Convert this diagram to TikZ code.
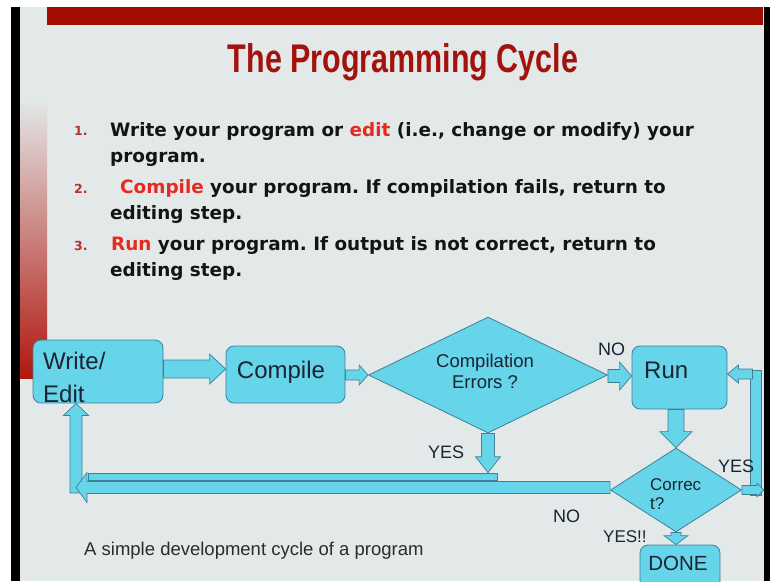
\documentclass[tikz,border=0pt]{standalone}
\usepackage{fontspec}
\setmainfont{Liberation Sans}
\newfontfamily\listfont{DejaVu Sans}
\usetikzlibrary{calc,shapes.geometric}

\definecolor{slidebg}{HTML}{E3E8E8}
\definecolor{barred}{HTML}{A20D02}
\definecolor{sidered}{HTML}{B0170F}
\definecolor{titlered}{HTML}{A3120C}
\definecolor{wordred}{HTML}{E62A21}
\definecolor{numred}{HTML}{B8302E}
\definecolor{flowcyan}{HTML}{66D4E9}
\definecolor{edgeblue}{HTML}{3E8098}
\definecolor{labelink}{HTML}{1C2433}
\definecolor{bodyink}{HTML}{141414}

\newcommand\fsz[1]{\fontsize{#1}{#1}\selectfont}
\newcommand\hl[1]{\textcolor{wordred}{#1}}

% block arrow: from, to, shaft half width, head half width, head length
\newcommand\blockarrow[5]{%
  \draw[flowarrow]
    ($(#1)!#3!90:(#2)$) --
    ($(#2)!#5!(#1)!#3!90:(#2)$) --
    ($(#2)!#5!(#1)!#4!90:(#2)$) --
    (#2) --
    ($(#2)!#5!(#1)!#4!-90:(#2)$) --
    ($(#2)!#5!(#1)!#3!-90:(#2)$) --
    ($(#1)!#3!-90:(#2)$) -- cycle;}

\tikzset{
  flowbox/.style={draw=edgeblue, fill=flowcyan, rounded corners=8pt,
    inner sep=0pt, line width=0.8pt},
  decision/.style={diamond, draw=edgeblue, fill=flowcyan, inner sep=0pt,
    line width=0.8pt},
  barpart/.style={draw=edgeblue, fill=flowcyan, inner sep=0pt,
    line width=0.7pt},
  flowarrow/.style={draw=edgeblue, fill=flowcyan, line width=0.7pt,
    line join=miter},
  lbl/.style={inner sep=0pt, anchor=base west, text=labelink},
  listline/.style={inner sep=0pt, anchor=base west, text=bodyink,
    font=\listfont\bfseries\fsz{18.4}\frenchspacing},
  listnum/.style={inner sep=0pt, anchor=base west, text=numred,
    font=\listfont\bfseries\fsz{12.5}},
}

\begin{document}
\frenchspacing
\begin{tikzpicture}[x=1pt,y=-1pt]
\useasboundingbox (0,0) rectangle (770,581);

% slide frame
\fill[white] (0,0) rectangle (770,581);
\fill[slidebg] (20,7) rectangle (764,581);
\fill[black] (11,7) rectangle (20,581);
\fill[black] (764,7) rectangle (770,581);
\fill[barred] (47,7) rectangle (763,25);
\shade[top color=slidebg, middle color=sidered!45!slidebg, bottom color=sidered]
  (20,100) rectangle (47,378);

% title
\node[anchor=base, inner sep=0pt, text=titlered] (title) at (403,72)
  {\resizebox{350pt}{29pt}{\bfseries The Programming Cycle}};

% numbered steps
\node[listnum] (n1) at (74,135) {1.};
\node[listline] (l1) at (110,136)
  {Write your program or \hl{edit} (i.e., change or modify) your};
\node[listline] (l2) at (110,162) {program.};
\node[listnum] (n2) at (74,193) {2.};
\node[listline] (l3) at (120,193)
  {\hl{Compile} your program. If compilation fails, return to};
\node[listline] (l4) at (110,219) {editing step.};
\node[listnum] (n3) at (74,250) {3.};
\node[listline] (l5) at (111,250)
  {\hl{Run} your program. If output is not correct, return to};
\node[listline] (l6) at (110,276) {editing step.};

% flowchart shapes
\node[flowbox, minimum width=130pt, minimum height=63pt] (wr) at (98,371.5) {};
\node[flowbox, minimum width=119pt, minimum height=57pt] (cp) at (285.5,374.5) {};
\node[decision, minimum width=239pt, minimum height=116pt] (ce) at (488,375) {};
\node[flowbox, minimum width=95pt, minimum height=63pt] (rn) at (679.5,377.5) {};
\node[decision, minimum width=131pt, minimum height=84pt] (ok) at (676,490) {};
\node[flowbox, minimum width=80pt, minimum height=44pt] (dn) at (680,567) {};

% return path pieces
\node[barpart, minimum width=409pt, minimum height=7pt] (ub) at (292.5,476.5) {};
\node[barpart, minimum width=11pt, minimum height=125pt] (rb) at (755.5,432.5) {};

% connector end points
\coordinate (a1s) at ($(wr.east)+(0,-2.5)$);
\coordinate (a1e) at (a1s -| cp.west);
\coordinate (a2s) at (cp.east |- ce.west);
\coordinate (a3e) at ($(ce.east -| rn.west)+(0,1)$);
\coordinate (a3s) at (a3e -| ce.east);
\coordinate (a4s) at (ok.north |- rn.south);
\coordinate (a5e) at (ce.south |- ub.north);
\coordinate (lc) at (76,493);
\coordinate (lt) at (lc |- wr.south);
\coordinate (a6s) at ($(ok.west)+(0,-2.5)$);
\coordinate (a6e) at (a6s -| lc);
\coordinate (a7e) at (ok.south |- dn.north);
\coordinate (a8e) at ($(ok.east)+(22,0)$);
\coordinate (a9s) at ($(rn.east)+(25,-3.5)$);
\coordinate (a9e) at (a9s -| rn.east);

% connectors
\blockarrow{a1s}{a1e}{9pt}{15pt}{16pt}
\blockarrow{a2s}{ce.west}{5pt}{10pt}{9pt}
\blockarrow{a3s}{a3e}{6.5pt}{14pt}{12pt}
\blockarrow{a4s}{ok.north}{8pt}{16pt}{16pt}
\blockarrow{ce.south}{a5e}{6.5pt}{12.5pt}{16pt}
\blockarrow{lc}{lt}{6pt}{12.5pt}{12pt}
\blockarrow{a6s}{a6e}{6pt}{15pt}{11pt}
\blockarrow{ok.south}{a7e}{5pt}{12pt}{9pt}
\blockarrow{ok.east}{a8e}{4.5pt}{7pt}{7pt}
\blockarrow{a9s}{a9e}{5pt}{9pt}{11pt}

% labels
\node[lbl, font=\fsz{24}] (t1) at (43,369) {Write/};
\node[lbl, font=\fsz{24}] (t2) at (43,402) {Edit};
\node[lbl, anchor=base, font=\fsz{24}] (t3) at (281,378) {Compile};
\node[lbl, anchor=base, font=\fsz{18.5}] (t4) at (485,367) {Compilation};
\node[lbl, anchor=base, font=\fsz{18.5}] (t5) at (485,388) {Errors ?};
\node[lbl, font=\fsz{18}] (t6) at (598,355) {NO};
\node[lbl, font=\fsz{24}] (t7) at (644,378) {Run};
\node[lbl, font=\fsz{18}] (t8) at (428,458) {YES};
\node[lbl, font=\fsz{18}] (t9) at (718,472) {YES};
\node[lbl, font=\fsz{17}] (t10) at (650,490) {Correc};
\node[lbl, font=\fsz{17}] (t11) at (650,509) {t?};
\node[lbl, font=\fsz{18}] (t12) at (553,522) {NO};
\node[lbl, font=\fsz{17}] (t13) at (603,542) {YES!!};
\node[lbl, anchor=base, font=\fsz{20.5}] (t14) at (678,570) {DONE};
\node[lbl, font=\fsz{18.5}, text=bodyink!90!white] (cap) at (84,555)
  {A simple development cycle of a program};
\end{tikzpicture}
\end{document}
